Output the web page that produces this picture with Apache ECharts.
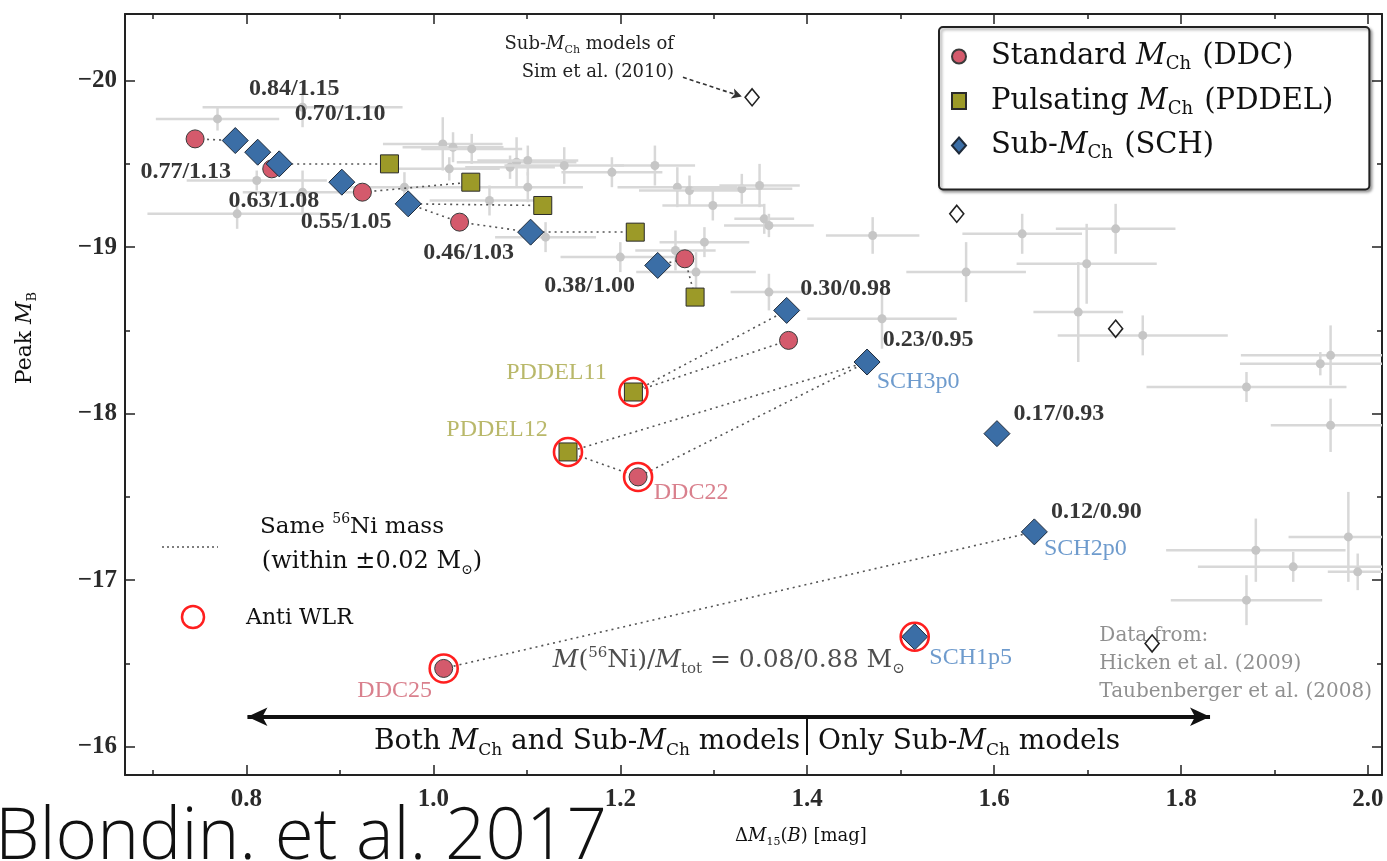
<!DOCTYPE html>
<html><head><meta charset="utf-8">
<script src="https://cdn.jsdelivr.net/npm/echarts@6/dist/echarts.min.js"></script>
<style>html,body{margin:0;padding:0;background:#fff}#c{width:1387px;height:861px}</style>
</head><body><div id="c"></div>
<script>
// ---------- DATA ----------
// Standard M_Ch (DDC)
const ddcX = [0.745, 0.827, 0.924, 1.028, 1.269, 1.380, 1.219, 1.011];
const ddcY = [-19.65, -19.47, -19.33, -19.15, -18.93, -18.44, -17.62, -16.47];
// Pulsating M_Ch (PDDEL)
const pddelX = [0.953, 1.040, 1.117, 1.216, 1.280, 1.214, 1.144];
const pddelY = [-19.50, -19.39, -19.25, -19.09, -18.70, -18.13, -17.77];
// Sub-M_Ch (SCH)
const schX = [0.788, 0.812, 0.835, 0.902, 0.973, 1.104, 1.240, 1.378, 1.464, 1.603, 1.643, 1.515];
const schY = [-19.64, -19.57, -19.50, -19.39, -19.26, -19.09, -18.89, -18.62, -18.31, -17.88, -17.29, -16.66];
const schRatio = ['0.84/1.15', '0.77/1.13', '0.70/1.10', '0.63/1.08', '0.55/1.05', '0.46/1.03', '0.38/1.00', '0.30/0.98', '0.23/0.95', '0.17/0.93', '0.12/0.90', ''];
// Sim et al. (2010) sub-M_Ch models
const simX = [1.341, 1.560, 1.730, 1.769];
const simY = [-19.90, -19.20, -18.51, -16.62];
// Observed SNe Ia (Hicken 2009, Taubenberger 2008)
const obsX = [0.769, 0.860, 0.811, 0.790, 0.860, 0.969, 1.010, 1.021, 1.041, 1.089, 1.101, 1.101, 1.060, 1.017, 1.082,
  1.140, 1.191, 1.237, 1.261, 1.274, 1.330, 1.349, 1.299, 1.354, 1.120, 1.200, 1.259, 1.290, 1.359, 1.281, 1.359,
  1.470, 1.480, 1.630, 1.730, 1.699, 1.570, 1.690, 1.759, 1.870, 1.949, 1.960, 1.960, 1.880, 1.979, 1.920, 1.989, 1.870];
const obsY = [-19.77, -19.84, -19.40, -19.20, -19.33, -19.36, -19.62, -19.60, -19.59, -19.51, -19.52, -19.36, -19.28, -19.47, -19.48,
  -19.49, -19.45, -19.49, -19.36, -19.34, -19.35, -19.37, -19.25, -19.17, -19.06, -18.94, -18.98, -19.03, -19.13, -18.85, -18.73,
  -19.07, -18.57, -19.08, -19.11, -18.90, -18.85, -18.61, -18.47, -18.16, -18.30, -18.35, -17.93, -17.18, -17.26, -17.08, -17.05, -16.88];
const obsXErr = [0.066, 0.107, 0.075, 0.096, 0.064, 0.075, 0.064, 0.054, 0.054, 0.064, 0.054, 0.059, 0.064, 0.054, 0.048,
  0.064, 0.054, 0.043, 0.064, 0.054, 0.054, 0.043, 0.054, 0.032, 0.054, 0.064, 0.043, 0.048, 0.048, 0.064, 0.041,
  0.050, 0.080, 0.064, 0.064, 0.075, 0.064, 0.048, 0.091, 0.107, 0.086, 0.096, 0.064, 0.096, 0.064, 0.102, 0.032, 0.081];
const obsYErr = [0.07, 0.12, 0.06, 0.09, 0.13, 0.09, 0.16, 0.09, 0.09, 0.15, 0.09, 0.09, 0.09, 0.07, 0.07,
  0.11, 0.09, 0.12, 0.12, 0.09, 0.09, 0.13, 0.09, 0.09, 0.09, 0.09, 0.12, 0.09, 0.07, 0.12, 0.11,
  0.11, 0.18, 0.12, 0.15, 0.24, 0.18, 0.30, 0.12, 0.09, 0.07, 0.18, 0.16, 0.19, 0.27, 0.09, 0.11, 0.15];
// Same 56Ni mass links: [set, index, set, index]
const niLinks = [
  ['ddc', 0, 'sch', 0], ['sch', 2, 'pddel', 0], ['ddc', 2, 'pddel', 1], ['sch', 4, 'pddel', 2],
  ['sch', 4, 'ddc', 3], ['ddc', 3, 'sch', 5], ['sch', 5, 'pddel', 3], ['sch', 6, 'ddc', 4],
  ['ddc', 4, 'pddel', 4], ['sch', 7, 'pddel', 5], ['ddc', 5, 'pddel', 5], ['sch', 8, 'pddel', 6],
  ['sch', 8, 'ddc', 6], ['pddel', 6, 'ddc', 6], ['sch', 10, 'ddc', 7]
];
// Anti-WLR models
const antiWLR = [['pddel', 5], ['pddel', 6], ['ddc', 6], ['ddc', 7], ['sch', 11]];
// Named models
const modelNames = [['pddel', 5, 'PDDEL11'], ['pddel', 6, 'PDDEL12'], ['ddc', 6, 'DDC22'], ['ddc', 7, 'DDC25'],
  ['sch', 8, 'SCH3p0'], ['sch', 10, 'SCH2p0'], ['sch', 11, 'SCH1p5']];
const xMajorTicks = [0.8, 1.0, 1.2, 1.4, 1.6, 1.8, 2.0];
const xMinorTicks = [0.7, 0.9, 1.1, 1.3, 1.5, 1.7, 1.9];
const yMajorTicks = [-20, -19, -18, -17, -16];
const yMinorTicks = [-20.5, -19.5, -18.5, -17.5, -16.5];

// ---------- LAYOUT / STYLE ----------
const sets = { ddc: [ddcX, ddcY], pddel: [pddelX, pddelY], sch: [schX, schY] };
const pt = (s, i) => [sets[s][0][i], sets[s][1][i]];
const ratioOffsets = [[59, -52], [-72, 20], [61, -50], [-68, 19], [-62, 18], [-62, 21], [-68, 20], [59, -22], [61, -22], [62, -20], [62, -20], [0, 0]];
const nameOffsets = [[-77, -19], [-71, -22], [53, 16], [-49, 22], [51, 20], [51, 17], [56, 21]];
const nameColors = { ddc: '#d06070', pddel: '#a8a645', sch: '#4a82c0' };
const SERIF = '"Liberation Serif", "DejaVu Serif", serif';
const DJ = '"DejaVu Serif", serif';
const minus = v => String(v).replace('-', '\u2212');

const chart = echarts.init(document.getElementById('c'), null, { renderer: 'canvas' });

const xr = { min: 0.67, max: 2.015 };
const yr = { min: -20.4, max: -15.83 };
function xAxisDef(pos, ticks, len, showLabel, showLine) {
  return {
    type: 'value', position: pos, min: xr.min, max: xr.max,
    splitLine: { show: false },
    axisLine: { show: showLine, onZero: false, lineStyle: { color: '#222', width: 2 } },
    axisTick: { show: true, inside: true, length: len, customValues: ticks, lineStyle: { color: '#222', width: 1.5 } },
    axisLabel: { show: showLabel, customValues: ticks, formatter: v => v.toFixed(1), fontFamily: SERIF, fontSize: 25, fontWeight: 'bold', color: '#2a2a2a', margin: 12 }
  };
}
function yAxisDef(pos, ticks, len, showLabel, showLine) {
  return {
    type: 'value', position: pos, inverse: true, min: yr.min, max: yr.max,
    splitLine: { show: false },
    axisLine: { show: showLine, onZero: false, lineStyle: { color: '#222', width: 2 } },
    axisTick: { show: true, inside: true, length: len, customValues: ticks, lineStyle: { color: '#222', width: 1.5 } },
    axisLabel: { show: showLabel, customValues: ticks, formatter: v => minus(v), fontFamily: SERIF, fontSize: 25, fontWeight: 'bold', color: '#2a2a2a', margin: 8 }
  };
}

const legendFmt = {
  DDC: '{g| }{n|Standard }{i|M}{s|Ch}{n| (DDC)}',
  PDDEL: '{g| }{n|Pulsating }{i|M}{s|Ch}{n| (PDDEL)}',
  SCH: '{g| }{n|Sub-}{i|M}{s|Ch}{n| (SCH)}'
};
const richText = (size, sub, font) => ({
  n: { fontFamily: font, fontSize: size, lineHeight: size + 6 },
  i: { fontFamily: font, fontSize: size, fontStyle: 'italic', lineHeight: size + 6 },
  s: { fontFamily: font, fontSize: sub, verticalAlign: 'bottom', lineHeight: sub },
  p: { fontFamily: font, fontSize: sub, verticalAlign: 'top', lineHeight: sub }
});

const option = {
  animation: false,
  backgroundColor: '#fff',
  grid: { left: 125, right: 5, top: 14, bottom: 86, containLabel: false },
  xAxis: [
    xAxisDef('bottom', xMajorTicks, 10, true, true),
    xAxisDef('bottom', xMinorTicks, 5, false, false),
    xAxisDef('top', xMajorTicks, 10, false, true),
    xAxisDef('top', xMinorTicks, 5, false, false)
  ],
  yAxis: [
    yAxisDef('left', yMajorTicks, 10, true, true),
    yAxisDef('left', yMinorTicks, 5, false, false),
    yAxisDef('right', yMajorTicks, 10, false, true),
    yAxisDef('right', yMinorTicks, 5, false, false)
  ],
  legend: {
    data: [{ name: 'DDC', icon: 'circle' }, { name: 'PDDEL', icon: 'rect' }, { name: 'SCH', icon: 'diamond' }],
    orient: 'vertical', left: 939, top: 27,
    padding: [15, 36, 27, 12], itemGap: 13, itemWidth: 14, itemHeight: 16,
    backgroundColor: '#fff', borderColor: '#222', borderWidth: 2, borderRadius: 4,
    shadowColor: 'rgba(0,0,0,0.35)', shadowBlur: 3, shadowOffsetX: 2, shadowOffsetY: 2,
    formatter: n => legendFmt[n],
    textStyle: {
      rich: {
        g: { width: 20, fontSize: 10 },
        n: { fontFamily: DJ, fontSize: 29, color: '#111', lineHeight: 34 },
        i: { fontFamily: DJ, fontSize: 29, fontStyle: 'italic', color: '#111', lineHeight: 34 },
        s: { fontFamily: DJ, fontSize: 18, color: '#111', verticalAlign: 'bottom', lineHeight: 18, padding: [0, 2, 0, 0] }
      }
    }
  },
  graphic: [
    // Sim et al. annotation
    { type: 'text', right: 1387 - 674, top: 35, style: { text: '{n|Sub-}{i|M}{s|Ch}{n| models of}', fill: '#222', align: 'right', rich: richText(18, 11, DJ) } },
    { type: 'text', right: 1387 - 674, top: 63, style: { text: 'Sim et al. (2010)', font: '18px ' + DJ, fill: '#222', align: 'right' } },
    // left legend
    { type: 'line', shape: { x1: 162, y1: 547, x2: 218, y2: 547 }, style: { stroke: '#555', lineWidth: 1.5, lineDash: [2, 3] } },
    { type: 'text', x: 352, y: 527, style: { text: '{n|Same }{p|56}{n|Ni mass}', align: 'center', verticalAlign: 'middle', fill: '#111', rich: richText(23, 14, DJ) } },
    { type: 'text', x: 372, y: 562, style: { text: '{n|(within \u00b10.02 M}{s|\u2299}{n|)}', align: 'center', verticalAlign: 'middle', fill: '#111', rich: richText(24, 14, DJ) } },
    { type: 'circle', shape: { cx: 193, cy: 617, r: 11 }, style: { fill: 'none', stroke: '#ff1f1f', lineWidth: 2.5 } },
    { type: 'text', x: 246, y: 618, style: { text: 'Anti WLR', font: '22px ' + DJ, fill: '#111', verticalAlign: 'middle' } },
    // data source
    { type: 'text', right: 15, top: 622, style: { text: 'Data from:\nHicken et al. (2009)\nTaubenberger et al. (2008)', font: '20px ' + DJ, fill: '#909090', align: 'right', lineHeight: 28 } },
    // bottom region texts
    { type: 'text', x: 800, y: 742, style: { text: '{n|Both }{i|M}{s|Ch}{n| and Sub-}{i|M}{s|Ch}{n| models}', align: 'right', verticalAlign: 'middle', fill: '#111', rich: richText(28, 17, DJ) } },
    { type: 'text', x: 818, y: 742, style: { text: '{n|Only Sub-}{i|M}{s|Ch}{n| models}', align: 'left', verticalAlign: 'middle', fill: '#111', rich: richText(28, 17, DJ) } },
    // axis names
    { type: 'text', x: 801, y: 836, style: { text: '{n|\u0394}{i|M}{s|15}{n|(}{i|B}{n|) [mag]}', align: 'center', verticalAlign: 'middle', fill: '#111', rich: richText(18, 11, DJ) } },
    { type: 'text', x: 25, y: 338, rotation: Math.PI / 2, style: { text: '{n|Peak }{i|M}{s|B}', align: 'center', verticalAlign: 'middle', fill: '#111', rich: richText(22, 13, DJ) } },
    // credit
    { type: 'text', x: -5, y: 874, style: { text: 'Blondin. et al. 2017', font: '300 71px "Open Sans", Lato, sans-serif', fill: '#111', verticalAlign: 'bottom' } }
  ],
  series: [
    {
      type: 'custom', name: 'obs', coordinateSystem: 'cartesian2d', clip: true, z: 1, silent: true,
      data: obsX.map((x, i) => [x, obsY[i], obsXErr[i], obsYErr[i]]),
      encode: { x: 0, y: 1 },
      renderItem(params, api) {
        const x = api.value(0), y = api.value(1), ex = api.value(2), ey = api.value(3);
        const c = api.coord([x, y]), l = api.coord([x - ex, y]), r = api.coord([x + ex, y]), t = api.coord([x, y - ey]), b = api.coord([x, y + ey]);
        const st = { stroke: '#d8d8d8', lineWidth: 2.5 };
        return { type: 'group', children: [
          { type: 'line', shape: { x1: l[0], y1: l[1], x2: r[0], y2: r[1] }, style: st },
          { type: 'line', shape: { x1: t[0], y1: t[1], x2: b[0], y2: b[1] }, style: st },
          { type: 'circle', shape: { cx: c[0], cy: c[1], r: 4.5 }, style: { fill: '#c6c6c6' } }
        ] };
      }
    },
    {
      type: 'lines', name: 'links', coordinateSystem: 'cartesian2d', z: 2, silent: true,
      data: niLinks.map(l => ({ coords: [pt(l[0], l[1]), pt(l[2], l[3])] })),
      lineStyle: { color: '#555', width: 1.6, type: [2, 4], opacity: 1 }
    },
    {
      type: 'scatter', name: 'sim', z: 3, symbol: 'diamond', symbolSize: [14, 17],
      data: simX.map((x, i) => [x, simY[i]]),
      itemStyle: { color: '#fff', borderColor: '#222', borderWidth: 1.6, opacity: 1 },
      markLine: {
        silent: true, symbol: ['none', 'arrow'], symbolSize: [8, 10],
        lineStyle: { color: '#333', width: 1.6, type: [4, 3] }, label: { show: false },
        data: [[{ coord: [1.267, -20.02] }, { coord: [1.330, -19.904] }]]
      }
    },
    {
      type: 'scatter', name: 'DDC', z: 4, symbol: 'circle', symbolSize: 18,
      data: ddcX.map((x, i) => [x, ddcY[i]]),
      itemStyle: { color: '#d45a6c', borderColor: '#3a3a3a', borderWidth: 1, opacity: 1 }
    },
    {
      type: 'scatter', name: 'PDDEL', z: 4, symbol: 'rect', symbolSize: 18,
      data: pddelX.map((x, i) => [x, pddelY[i]]),
      itemStyle: { color: '#9c9a28', borderColor: '#2a2a2a', borderWidth: 1, opacity: 1 }
    },
    {
      type: 'scatter', name: 'SCH', z: 5, symbol: 'diamond', symbolSize: [26, 26],
      data: schX.map((x, i) => ({ value: [x, schY[i]], label: { offset: ratioOffsets[i] } })),
      itemStyle: { color: '#3b6ea6', borderColor: '#1e2a3a', borderWidth: 1, opacity: 1 },
      label: { show: true, position: 'inside', formatter: p => schRatio[p.dataIndex], fontFamily: SERIF, fontSize: 24, fontWeight: 'bold', color: '#363636', align: 'center', verticalAlign: 'middle' }
    },
    {
      type: 'scatter', name: 'anti', z: 6, symbol: 'circle', symbolSize: 28, silent: true,
      data: antiWLR.map(a => pt(a[0], a[1])),
      itemStyle: { color: 'rgba(0,0,0,0)', borderColor: '#ff1f1f', borderWidth: 2.6, opacity: 1 }
    },
    {
      type: 'scatter', name: 'names', z: 7, symbolSize: 0, silent: true,
      data: modelNames.map((m, i) => ({ value: pt(m[0], m[1]), label: { offset: nameOffsets[i], color: nameColors[m[0]] } })),
      label: { show: true, position: 'inside', formatter: p => modelNames[p.dataIndex][2], fontFamily: SERIF, fontSize: 24, align: 'center', verticalAlign: 'middle' }
    },
    {
      type: 'scatter', name: 'ni', z: 7, symbolSize: 0, silent: true,
      data: [{ value: pt('sch', 11) }],
      label: { show: true, position: 'inside', offset: [-10, 24], align: 'right', verticalAlign: 'middle', color: '#222',
        formatter: '{i|M}{n|(}{p|56}{n|Ni)/}{i|M}{s|tot}{n| = 0.08/0.88 M}{s|\u2299}',
        rich: richText(25, 15, DJ)
      }
    },
    {
      type: 'scatter', name: 'range', z: 3, symbolSize: 0, silent: true, data: [],
      markLine: {
        silent: true, symbol: ['none', 'none'], label: { show: false },
        lineStyle: { color: '#111', width: 2, type: 'solid' },
        data: [
          [{ coord: [0.801, -16.18], symbol: 'arrow', symbolSize: [14, 20] }, { coord: [1.831, -16.18], symbol: 'arrow', symbolSize: [14, 20], lineStyle: { width: 4 } }],
          [{ coord: [1.40, -16.17] }, { coord: [1.40, -15.95] }]
        ]
      }
    }
  ]
};
chart.setOption(option);
</script></body></html>
